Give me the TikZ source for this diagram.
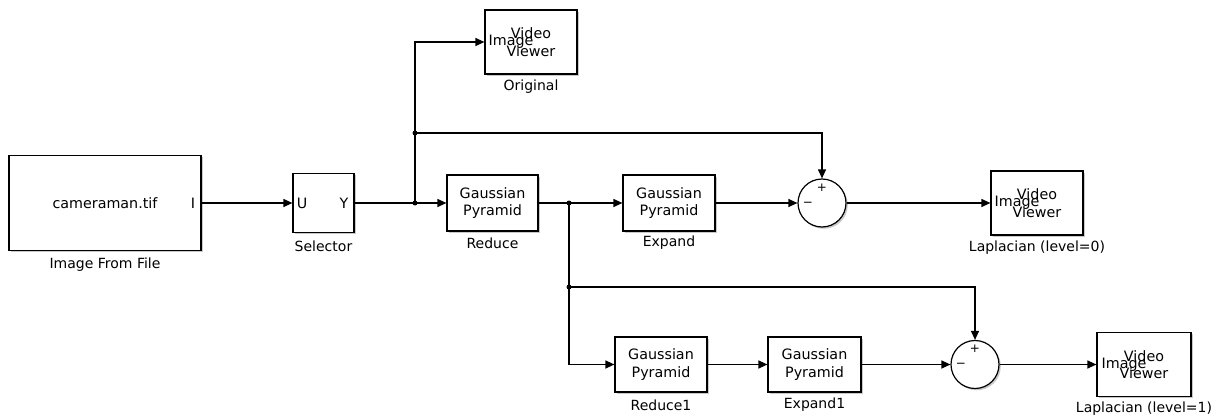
\documentclass[tikz,border=0pt]{standalone}
\usepackage{fontspec}
\setmainfont{DejaVu Sans}
\usetikzlibrary{arrows.meta,shadows,calc}
\begin{document}
\begin{tikzpicture}[x=1pt,y=-1pt,
  every node/.style={font=\fontsize{14.3}{17.5}\selectfont, inner sep=0pt},
  blk/.style={draw, line width=1.2pt, fill=white, align=center,
     drop shadow={shadow xshift=1.8pt, shadow yshift=-1.8pt, fill=gray!60, opacity=0.7}},
  sumblk/.style={draw, circle, line width=1.2pt, fill=white, minimum size=48pt,
     drop shadow={shadow xshift=1.8pt, shadow yshift=-1.8pt, fill=gray!60, opacity=0.7}},
  lbl/.style={font=\fontsize{14}{16}\selectfont},
  wire/.style={line width=1.2pt},
  arr/.style={wire, -{Triangle[length=9pt,width=8pt]}},
  dot/.style={circle, fill, minimum size=5pt, inner sep=0pt},
  sgn/.style={font=\fontsize{12}{12}\selectfont}]
\useasboundingbox (0,0) rectangle (1221,420);

% blocks
\node[blk, minimum width=192pt, minimum height=95pt] (img) at (105,203) {};
\node at (105,203) {cameraman.tif};
\node at (193,203) {I};
\node[lbl] (limg) at (105,265) {Image From File};

\node[blk, minimum width=61pt, minimum height=59pt] (sel) at (323.5,203) {};
\node at (302,203) {U};
\node at (344,203) {Y};
\node[lbl] (lsel) at (323.5,246) {Selector};

\node[blk, minimum width=92pt, minimum height=64pt] (orig) at (531,42) {Video\\Viewer};
\node at (511,42) {Image};
\node[lbl] (lorig) at (531,87) {Original};

\node[blk, minimum width=91pt, minimum height=56pt] (red) at (492.5,203) {Gaussian\\Pyramid};
\node[lbl] (lred) at (492.5,243) {Reduce};

\node[blk, minimum width=92pt, minimum height=56pt] (exp) at (669,203) {Gaussian\\Pyramid};
\node[lbl] (lexp) at (669,243) {Expand};

\node[sumblk] (sum1) at (822,203) {};
\node[sgn] at (822,188) {+};
\node[sgn] at (808,204) {−};

\node[blk, minimum width=92pt, minimum height=64pt] (lap0) at (1037,203) {Video\\Viewer};
\node at (1017,203) {Image};
\node[lbl] (llap0) at (1037,248) {Laplacian (level=0)};

\node[blk, minimum width=92pt, minimum height=55pt] (red1) at (661,364.5) {Gaussian\\Pyramid};
\node[lbl] (lred1) at (661,405) {Reduce1};

\node[blk, minimum width=93pt, minimum height=55pt] (exp1) at (814.5,364.5) {Gaussian\\Pyramid};
\node[lbl] (lexp1) at (814.5,405) {Expand1};

\node[sumblk] (sum2) at (975,364.5) {};
\node[sgn] at (975,349) {+};
\node[sgn] at (961,365) {−};

\node[blk, minimum width=94pt, minimum height=64pt] (lap1) at (1144,364.5) {Video\\Viewer};
\node at (1124,364.5) {Image};
\node[lbl] (llap1) at (1144,409) {Laplacian (level=1)};

% junctions
\node[dot] (j1) at (415,203) {};
\node[dot] (j2) at (415,133) {};
\node[dot] (j3) at (569,203) {};
\node[dot] (j4) at (569,287) {};

% wires
\draw[arr] (img.east) -- (sel.west);
\draw[wire] (sel.east) -- (j1.center);
\draw[arr] (j1.center) -- (red.west);
\draw[arr] (j1.center) |- (orig.west);
\draw[arr] (j2.center) -| (sum1.north);
\draw[wire] (red.east) -- (j3.center);
\draw[arr] (j3.center) -- (exp.west);
\draw[arr] (exp.east) -- (sum1.west);
\draw[arr] (sum1.east) -- (lap0.west);
\draw[arr] (j3.center) |- (red1.west);
\draw[arr] (j4.center) -| (sum2.north);
\draw[arr] (red1.east) -- (exp1.west);
\draw[arr] (exp1.east) -- (sum2.west);
\draw[arr] (sum2.east) -- (lap1.west);
\end{tikzpicture}
\end{document}
